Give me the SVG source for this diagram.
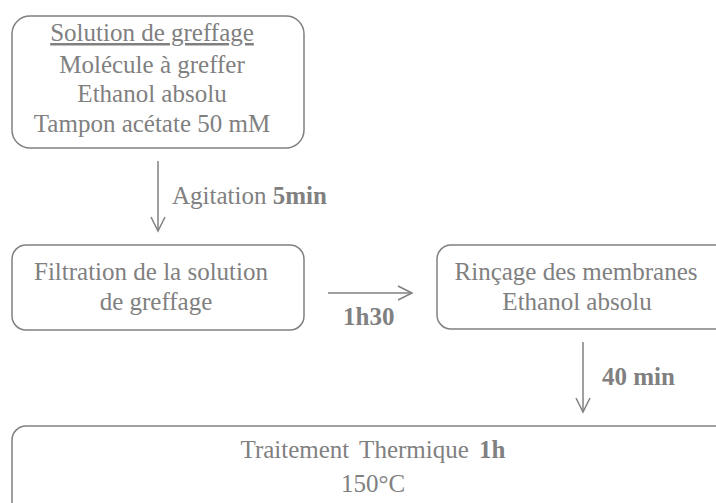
<svg xmlns="http://www.w3.org/2000/svg" width="716" height="503" viewBox="0 0 716 503">
<style>
.box{fill:#fff;stroke:#808080;stroke-width:1.5}
text{font-family:'Liberation Serif','Times New Roman','DejaVu Serif',serif;font-size:25px;fill:#808080}
.t{text-anchor:middle}
.b{font-weight:bold}
.c{stroke:#808080;stroke-width:1.5;fill:none}
</style>
<defs>
<marker id="ah" markerWidth="20" markerHeight="20" refX="15" refY="8" orient="auto" markerUnits="userSpaceOnUse">
<path d="M1,1 L15,8 L1,15" fill="none" stroke="#808080" stroke-width="1.5"/>
</marker>
</defs>
<rect width="716" height="503" fill="#fff"/>
<g id="n1">
<rect class="box" x="12" y="16" width="292" height="132" rx="18"/>
<text class="t" x="152" y="41" text-decoration="underline">Solution de greffage</text>
<text class="t" x="152" y="73">Molécule à greffer</text>
<text class="t" x="152" y="102">Ethanol absolu</text>
<text class="t" x="152" y="132">Tampon acétate 50 mM</text>
</g>
<g id="n2">
<rect class="box" x="12" y="245" width="292" height="85" rx="14"/>
<text class="t" x="151" y="280">Filtration de la solution</text>
<text class="t" x="156" y="310">de greffage</text>
</g>
<g id="n3">
<rect class="box" x="437" y="245" width="300" height="84" rx="14"/>
<text class="t" x="576" y="280">Rinçage des membranes</text>
<text class="t" x="577" y="310">Ethanol absolu</text>
</g>
<g id="n4">
<rect class="box" x="12" y="426" width="730" height="90" rx="14"/>
<text class="t" x="373" y="458" word-spacing="4">Traitement Thermique <tspan class="b">1h</tspan></text>
<text class="t" x="373" y="492">150°C</text>
</g>
<g id="connectors">
<line class="c" x1="158" y1="161" x2="158" y2="231" marker-end="url(#ah)"/>
<line class="c" x1="328" y1="293" x2="412" y2="293" marker-end="url(#ah)"/>
<line class="c" x1="583" y1="342" x2="583" y2="412" marker-end="url(#ah)"/>
<text x="172" y="204">Agitation <tspan class="b">5min</tspan></text>
<text class="b" x="343" y="325">1h30</text>
<text class="b" x="602" y="385">40 min</text>
</g>
</svg>
